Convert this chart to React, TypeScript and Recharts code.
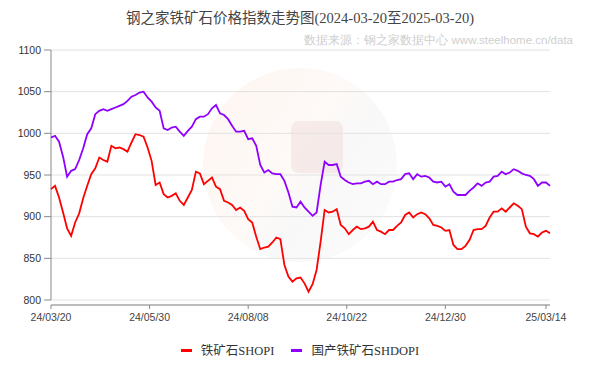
import { LineChart, Line, XAxis, YAxis, CartesianGrid, ReferenceLine } from 'recharts';

// 铁矿石SHOPI, sampled every 2 trading days from 2024-03-20
const shopi = [
  933, 937, 923, 905, 886, 877, 893, 904, 922, 937,
  951, 958, 971, 968, 966, 985, 982, 983, 981, 978,
  989, 999, 998, 996, 983, 967, 938, 941, 927, 923,
  925, 928, 919, 914, 923, 932, 954, 952, 939, 943,
  947, 936, 933, 919, 917, 914, 908, 911, 907, 897,
  893, 876, 861, 863, 864, 869, 875, 873, 842, 828,
  822, 826, 827, 820, 810, 819, 836, 870, 908, 905,
  906, 909, 890, 886, 879, 884, 888, 885, 886, 888,
  894, 884, 882, 879, 884, 884, 889, 893, 902, 905,
  899, 903, 905, 903, 898, 890, 889, 887, 883, 884,
  866, 861, 861, 865, 872, 884, 885, 885, 889, 899,
  906, 906, 910, 906, 911, 916, 913, 909, 888, 880,
  879, 876, 881, 883, 880,
];

// 国产铁矿石SHDOPI
const shdopi = [
  995, 997, 990, 972, 948, 955, 957, 968, 982, 999,
  1006, 1023, 1027, 1029, 1027, 1029, 1031, 1033, 1035, 1039,
  1044, 1046, 1049, 1050, 1043, 1038, 1031, 1027, 1006, 1004,
  1007, 1008, 1002, 997, 1003, 1008, 1017, 1020, 1020, 1023,
  1030, 1034, 1024, 1022, 1017, 1009, 1002, 1002, 1003, 993,
  994, 985, 962, 953, 956, 952, 951, 951, 943, 929,
  912, 911, 918, 911, 906, 901, 905, 938, 966, 962,
  962, 963, 948, 944, 941, 939, 940, 940, 942, 943,
  939, 942, 939, 939, 942, 942, 944, 945, 951, 952,
  945, 951, 948, 949, 947, 942, 941, 942, 936, 939,
  930, 926, 926, 926, 931, 935, 940, 937, 941, 942,
  948, 949, 954, 951, 953, 957, 955, 952, 950, 949,
  945, 937, 941, 941, 937,
];

const tickDays = [0, 49, 98, 147, 196, 246];
const tickLabels = ['24/03/20', '24/05/30', '24/08/08', '24/10/22', '24/12/30', '25/03/14'];
const yTicks = [800, 850, 900, 950, 1000, 1050, 1100];

const series = [
  { key: 'shopi', name: '铁矿石SHOPI', color: '#ff0000' },
  { key: 'shdopi', name: '国产铁矿石SHDOPI', color: '#8f00ff' },
];

const data = shopi.map((v, i) => ({ day: i * 2, shopi: v, shdopi: shdopi[i] }));

const SANS = '"Liberation Sans", Arial, sans-serif';
const SERIF = '"Liberation Serif", "Noto Sans CJK SC", serif';

export default function App() {
  return (
    <div style={{ position: 'absolute', left: 0, top: 0, width: 600, height: 370, background: '#fff' }}>
      {/* faint site logo behind the plot */}
      <div
        style={{
          position: 'absolute', left: 203, top: 68, width: 194, height: 194, borderRadius: '50%',
          background: 'linear-gradient(125deg, rgba(252,232,220,0.45) 0%, rgba(252,240,234,0.35) 45%, rgba(240,240,240,0.45) 62%, rgba(246,246,246,0.35) 100%)',
        }}
      />
      <div
        style={{
          position: 'absolute', left: 291, top: 121, width: 52, height: 52, borderRadius: 8,
          background: 'rgba(226,190,186,0.25)',
        }}
      />
      <div
        style={{
          position: 'absolute', left: 0, top: 8, width: 600, textAlign: 'center', lineHeight: '20px',
          fontFamily: SERIF, fontSize: 14.5, color: '#444',
        }}
      >
        钢之家铁矿石价格指数走势图(2024-03-20至2025-03-20)
      </div>
      <div
        style={{
          position: 'absolute', right: 27, top: 33, lineHeight: '14px', whiteSpace: 'nowrap',
          fontFamily: SANS, fontSize: 11.5, color: '#cfcfcf',
        }}
      >
        数据来源：钢之家数据中心 www.steelhome.cn/data
      </div>
      <div style={{ position: 'absolute', left: 0, top: 0 }}>
        <LineChart width={600} height={370} data={data} margin={{ top: 50, right: 50, bottom: 35, left: 0 }}>
          <CartesianGrid vertical={false} stroke="#e2e2e2" />
          <XAxis
            dataKey="day"
            type="number"
            domain={[0, 248]}
            ticks={tickDays}
            tickFormatter={(d) => tickLabels[tickDays.indexOf(d)]}
            height={30}
            stroke="#888"
            tickSize={4}
            tickMargin={5}
            tick={{ fill: '#444', fontSize: 10.5, fontFamily: SANS }}
          />
          <YAxis
            domain={[794, 1100]}
            ticks={yTicks}
            width={51}
            axisLine={false}
            stroke="#888"
            tickSize={7}
            tickMargin={3}
            tick={{ fill: '#333', fontSize: 10.5, fontFamily: SANS }}
          />
          <ReferenceLine segment={[{ x: 0, y: 800 }, { x: 0, y: 1100 }]} stroke="#888" />
          {series.map((s) => (
            <Line
              key={s.key}
              type="linear"
              dataKey={s.key}
              name={s.name}
              stroke={s.color}
              strokeWidth={1.8}
              dot={false}
              isAnimationActive={false}
            />
          ))}
        </LineChart>
      </div>
      <div
        style={{
          position: 'absolute', left: 0, top: 340, width: 600, height: 18,
          display: 'flex', justifyContent: 'center', alignItems: 'center',
          fontFamily: SERIF, fontSize: 12.5, color: '#333', whiteSpace: 'nowrap',
        }}
      >
        {series.map((s, i) => (
          <span key={s.key} style={{ display: 'flex', alignItems: 'center', marginLeft: i ? 17 : 0 }}>
            <span style={{ width: 11, height: 3, background: s.color, marginRight: 9, marginTop: 3 }} />
            {s.name}
          </span>
        ))}
      </div>
    </div>
  );
}
